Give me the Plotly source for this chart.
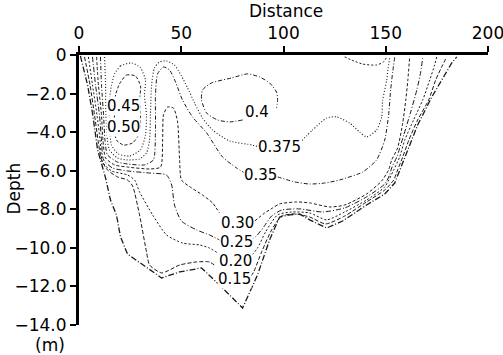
import plotly.graph_objects as go

# ---- channel bed profile (distance m, depth m) ----
BED_DIST = [0.7, 4.2, 6.6, 9.1, 13.0, 15.4, 18.3, 20.3, 23.7, 31.1, 40.4, 49.2, 59.9, 70.2, 80.0,
            87.3, 93.2, 98.1, 103.0, 107.9, 112.8, 121.1, 128.9, 140.6, 149.5, 154.4, 157.3, 160.8,
            165.6, 172.5, 177.4, 182.3, 184.7]
BED_DEPTH = [-0.05, -1.56, -3.01, -4.92, -6.38, -7.52, -8.29, -9.43, -10.32, -10.89, -11.56, -11.25,
             -11.04, -12.08, -13.12, -11.40, -9.59, -8.40, -8.29, -8.24, -8.55, -8.97, -8.61, -7.78,
             -7.21, -6.64, -5.86, -4.92, -3.63, -2.18, -1.30, -0.41, -0.10]

# ---- velocity isolines, split where the value label sits ----
V015_L_DIST = [2.7, 5.4, 7.6, 9.3, 11.0, 13.9, 18.8, 23.7, 26.2, 29.6, 33.0, 34.5, 40.4, 49.2, 57.5, 63.8, 66.8]
V015_L_DEPTH = [-0.10, -1.56, -3.11, -4.41, -5.44, -5.96, -6.32, -6.48, -6.79, -8.29, -10.21, -10.89,
                -11.30, -10.89, -10.73, -10.73, -10.94]
V015_R_DIST = [82.4, 85.4, 89.3, 94.2, 99.1, 105.4, 112.8, 120.6, 129.9, 140.6, 149.5, 153.9, 155.8,
               158.3, 161.3, 165.6, 171.0, 174.4, 177.8, 179.8]
V015_R_DEPTH = [-11.72, -11.25, -10.21, -9.07, -8.35, -8.24, -8.40, -8.76, -8.35, -7.62, -7.00, -6.48,
                -5.96, -5.29, -4.41, -3.37, -2.33, -1.30, -0.52, -0.10]

V020_L_DIST = [4.6, 6.6, 8.8, 10.3, 11.5, 15.9, 23.7, 27.2, 29.6, 36.0, 42.8, 50.6, 59.0, 63.8, 67.8]
V020_L_DEPTH = [-0.10, -1.56, -3.11, -4.41, -5.55, -6.01, -6.22, -6.48, -7.10, -8.29, -9.33, -9.75,
                -9.85, -10.01, -10.26]
V020_R_DIST = [83.4, 87.3, 91.2, 97.1, 103.9, 112.8, 121.1, 129.9, 140.6, 149.5, 153.9, 156.8, 159.3,
               163.6, 168.1, 171.5, 173.9, 174.9]
V020_R_DEPTH = [-10.52, -10.01, -9.18, -8.29, -8.14, -8.19, -8.55, -8.14, -7.52, -6.84, -5.96, -5.29,
                -4.41, -3.37, -2.33, -1.30, -0.52, -0.10]

V025_L_DIST = [6.6, 8.1, 10.0, 11.0, 12.0, 16.4, 23.7, 34.5, 42.8, 45.3, 46.7, 50.1, 57.5, 63.8, 68.7]
V025_L_DEPTH = [-0.10, -1.56, -3.11, -4.41, -5.44, -5.86, -6.01, -6.12, -6.22, -6.74, -7.78, -8.61,
                -9.07, -9.33, -9.59]
V025_R_DIST = [83.4, 86.8, 90.3, 94.2, 99.1, 107.9, 119.1, 129.9, 140.6, 149.5, 151.9, 152.9, 155.4,
               158.8, 162.2, 165.2, 167.1, 168.1]
V025_R_DEPTH = [-9.64, -9.38, -8.92, -8.35, -8.04, -7.98, -8.14, -7.93, -7.36, -6.69, -6.22, -5.86,
                -5.29, -4.15, -2.95, -1.81, -0.88, -0.10]

V030_L_DIST = [8.6, 9.5, 11.0, 11.7, 13.0, 17.4, 23.7, 34.5, 39.9, 40.9, 41.3, 43.3, 46.2, 48.2, 49.2,
               50.1, 55.0, 60.4, 65.3, 68.7]
V030_L_DEPTH = [-0.10, -1.56, -3.11, -4.41, -5.34, -5.70, -5.81, -5.91, -5.81, -4.41, -3.11, -2.70,
                -2.75, -3.47, -5.44, -6.48, -6.89, -7.26, -7.67, -8.19]
V030_R_DIST = [85.9, 90.8, 94.7, 98.1, 106.4, 112.8, 122.6, 129.9, 140.6, 148.0, 151.4, 152.9, 155.8,
               158.3, 159.8, 160.8, 161.7]
V030_R_DEPTH = [-8.61, -8.19, -7.93, -7.72, -7.62, -7.67, -7.88, -7.78, -7.21, -6.53, -5.96, -5.44,
                -4.82, -3.53, -2.33, -1.30, -0.10]

V035_L_DIST = [10.5, 11.0, 12.0, 12.7, 13.9, 18.8, 23.7, 32.0, 36.4, 37.4, 37.4, 38.4, 41.3, 44.3, 47.2,
               50.6, 55.5, 62.4, 70.2, 77.1, 81.0]
V035_L_DEPTH = [-0.10, -1.56, -3.11, -4.41, -5.18, -5.55, -5.65, -5.70, -5.44, -3.89, -2.07, -0.98,
                -0.62, -0.78, -1.40, -2.33, -3.21, -4.04, -5.29, -5.86, -6.12]
V035_R_DIST = [97.1, 105.4, 112.8, 120.1, 127.4, 138.7, 145.5, 149.5, 151.4, 152.4, 153.4, 154.4]
V035_R_DEPTH = [-6.32, -6.58, -6.69, -6.64, -6.48, -6.07, -5.44, -4.41, -3.11, -1.81, -0.88, -0.10]

V0375_L_DIST = [12.5, 13.0, 13.2, 13.9, 14.9, 18.8, 23.7, 29.6, 33.0, 34.5, 35.0, 35.5, 36.9, 39.4, 42.8,
                46.7, 50.1, 53.1, 56.5, 60.4, 65.3, 73.7, 84.9, 87.8]
V0375_L_DEPTH = [-0.10, -1.56, -3.11, -4.41, -4.92, -5.34, -5.44, -5.39, -5.08, -4.41, -2.85, -1.56,
                 -0.67, -0.36, -0.31, -0.52, -1.09, -1.71, -2.49, -3.27, -3.89, -4.46, -4.67, -4.77]
V0375_R_DIST = [107.9, 114.2, 121.1, 126.0, 132.3, 137.2, 140.6, 145.5, 148.0, 148.5, 150.5, 151.0, 152.0]
V0375_R_DEPTH = [-4.56, -3.89, -3.27, -3.21, -3.53, -3.99, -4.25, -3.89, -3.21, -2.33, -1.30, -0.78, -0.10]

V040_LOOP_DIST = [80.0, 73.7, 67.8, 62.4, 59.9, 60.4, 64.8, 74.6, 82.4, 88.3, 93.2, 96.6, 97.1, 96.6]
V040_LOOP_DEPTH = [-3.37, -3.47, -3.37, -3.01, -2.33, -1.81, -1.45, -1.19, -0.98, -1.14, -1.45, -1.92,
                   -2.33, -2.75]
V040_SURF_DIST = [129.9, 133.3, 138.7, 145.5, 148.9, 150.5]
V040_SURF_DEPTH = [-0.10, -0.26, -0.47, -0.52, -0.36, -0.10]

V045_DIST = [17.4, 20.3, 25.7, 30.1, 32.5, 32.0, 33.0, 32.5, 30.1, 24.7, 19.3, 15.9, 14.9, 14.9, 15.9, 17.4]
V045_DEPTH = [-0.98, -0.57, -0.41, -0.67, -1.30, -2.07, -3.11, -4.15, -4.92, -5.24, -5.13, -4.67, -3.63,
              -2.33, -1.56, -0.98]
V050_DIST = [19.8, 23.2, 27.6, 30.1, 29.6, 30.1, 29.1, 26.2, 21.8, 18.3, 17.4, 17.4, 17.9, 19.8]
V050_DEPTH = [-1.50, -1.04, -1.09, -1.61, -2.33, -3.27, -4.15, -4.56, -4.67, -4.41, -3.78, -2.75, -2.07, -1.50]

# ---- isoline value labels ----
LABEL_TEXT = ["0.45", "0.50", "0.4", "0.375", "0.35", "0.30", "0.25", "0.20", "0.15"]
LABEL_DIST = [21.8, 21.8, 86.8, 98.1, 88.8, 77.5, 77.1, 76.6, 76.1]
LABEL_DEPTH = [-2.64, -3.73, -2.95, -4.77, -6.22, -8.70, -9.68, -10.66, -11.64]

# ---- axes ----
X_TICKS = [0, 50, 100, 150, 200]
Y_TICKS = [0, -2, -4, -6, -8, -10, -12, -14]
Y_TICK_TEXT = ["0", "\u22122.0", "\u22124.0", "\u22126.0", "\u22128.0", "\u221210.0", "\u221212.0", "\u221214.0"]

INK = "#1a1a1a"
FONT = "DejaVu Sans"

segments = [
    (BED_DIST, BED_DEPTH, "6px,2px,1px,2px", 1.3, "linear"),
    (V015_L_DIST, V015_L_DEPTH, "4px,2px", 1.0, "spline"),
    (V015_R_DIST, V015_R_DEPTH, "4px,2px", 1.0, "spline"),
    (V020_L_DIST, V020_L_DEPTH, "2px,2px", 1.0, "spline"),
    (V020_R_DIST, V020_R_DEPTH, "2px,2px", 1.0, "spline"),
    (V025_L_DIST, V025_L_DEPTH, "5px,2px,1px,2px", 1.0, "spline"),
    (V025_R_DIST, V025_R_DEPTH, "5px,2px,1px,2px", 1.0, "spline"),
    (V030_L_DIST, V030_L_DEPTH, "3px,2px", 1.0, "spline"),
    (V030_R_DIST, V030_R_DEPTH, "3px,2px", 1.0, "spline"),
    (V035_L_DIST, V035_L_DEPTH, "4px,2px,1px,2px", 1.0, "spline"),
    (V035_R_DIST, V035_R_DEPTH, "4px,2px,1px,2px", 1.0, "spline"),
    (V0375_L_DIST, V0375_L_DEPTH, "1px,2px", 1.1, "spline"),
    (V0375_R_DIST, V0375_R_DEPTH, "1px,2px", 1.1, "spline"),
    (V040_LOOP_DIST, V040_LOOP_DEPTH, "4px,2px,1px,2px", 1.0, "spline"),
    (V040_SURF_DIST, V040_SURF_DEPTH, "2px,2px", 1.0, "spline"),
    (V045_DIST, V045_DEPTH, "1px,2px", 1.1, "spline"),
    (V050_DIST, V050_DEPTH, "3px,2px", 1.0, "spline"),
]

fig = go.Figure()
for xs, ys, dash, w, shape in segments:
    fig.add_trace(go.Scatter(
        x=xs, y=ys, mode="lines",
        line=dict(color=INK, width=w, dash=dash, shape=shape, smoothing=0.6),
        hoverinfo="skip", showlegend=False,
    ))

annotations = []
for txt, xd, yd in zip(LABEL_TEXT, LABEL_DIST, LABEL_DEPTH):
    annotations.append(dict(
        x=xd, y=yd, xref="x", yref="y", text=txt, showarrow=False,
        font=dict(family=FONT, size=15, color="black"),
        bgcolor="white", borderpad=0, xanchor="center", yanchor="middle",
    ))

annotations += [
    dict(x=0.505, y=1.163, xref="paper", yref="paper", text="Distance", showarrow=False,
         font=dict(family=FONT, size=17, color="black"), xanchor="center", yanchor="middle"),
    dict(x=-0.160, y=0.504, xref="paper", yref="paper", text="Depth", showarrow=False,
         textangle=-90, font=dict(family=FONT, size=17, color="black"),
         xanchor="center", yanchor="middle"),
    dict(x=-0.0697, y=-0.074, xref="paper", yref="paper", text="(m)", showarrow=False,
         font=dict(family=FONT, size=17, color="black"), xanchor="center", yanchor="middle"),
]

fig.update_layout(
    width=503, height=355,
    margin=dict(l=79, r=15, t=55, b=30, autoexpand=False),
    paper_bgcolor="white", plot_bgcolor="white",
    annotations=annotations,
    xaxis=dict(
        range=[0, 200], side="top", tickvals=X_TICKS, ticktext=[str(v) for v in X_TICKS],
        showline=True, linecolor="black", linewidth=3,
        ticks="outside", ticklen=6, tickwidth=2, tickcolor="black",
        showgrid=False, zeroline=False, ticklabeloverflow="allow", automargin=False,
        tickfont=dict(family=FONT, size=17, color="black"),
    ),
    yaxis=dict(
        range=[-14, 0], tickvals=Y_TICKS, ticktext=Y_TICK_TEXT,
        showline=True, linecolor="black", linewidth=3,
        ticks="outside", ticklen=6, tickwidth=2, tickcolor="black",
        showgrid=False, zeroline=False, ticklabeloverflow="allow", automargin=False,
        tickfont=dict(family=FONT, size=17, color="black"),
    ),
)

fig.write_html("out.html")
